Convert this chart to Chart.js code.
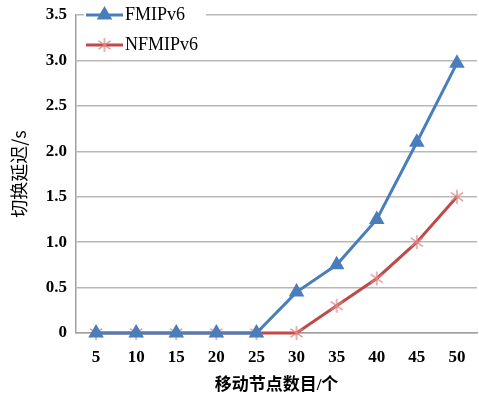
<!DOCTYPE html>
<html>
<head>
<meta charset="utf-8">
<script src="https://cdn.jsdelivr.net/npm/chart.js@4/dist/chart.umd.min.js"></script>
<style>
  html, body { margin: 0; padding: 0; background: #fff; }
  #wrap { width: 479px; height: 396px; }
</style>
</head>
<body>
<div id="wrap"><canvas id="chart" width="479" height="396"></canvas></div>
<script>
// Data
const nodeCounts = ['5', '10', '15', '20', '25', '30', '35', '40', '45', '50'];
const fmipDelay = [0, 0, 0, 0, 0, 0.45, 0.75, 1.25, 2.1, 2.97];
const nfmipDelay = [0, 0, 0, 0, 0, 0, 0.3, 0.6, 1.0, 1.5];
const yTicks = [0, 0.5, 1.0, 1.5, 2.0, 2.5, 3.0, 3.5];

const blue = '#4a7ebb';
const red = '#be4b48';
const serif = "'Liberation Serif', 'Times New Roman', 'Noto Sans CJK SC', serif";

// Excel-like asterisk marker (X plus vertical bar)
function makeAsterisk(size, color) {
  const c = document.createElement('canvas');
  c.width = size;
  c.height = size;
  const g = c.getContext('2d');
  const m = size / 2;
  const r = size / 2 - 1;
  g.strokeStyle = color;
  g.lineWidth = 1.3;
  g.beginPath();
  g.moveTo(m, m - r); g.lineTo(m, m + r);
  g.moveTo(m - r * 0.87, m - r * 0.6); g.lineTo(m + r * 0.87, m + r * 0.6);
  g.moveTo(m - r * 0.87, m + r * 0.6); g.lineTo(m + r * 0.87, m - r * 0.6);
  g.stroke();
  return c;
}
const asterisk = makeAsterisk(16, '#dd8684');

// Legend drawn inside the plot area, top-left
const insideLegend = {
  id: 'insideLegend',
  afterDraw(chart) {
    const ctx = chart.ctx;
    const area = chart.chartArea;
    ctx.save();
    chart.data.datasets.forEach((ds, i) => {
      const y = area.top + i * 30;
      const x0 = area.left + 10;
      const x1 = x0 + 37;
      ctx.fillStyle = '#fff';
      ctx.fillRect(x0 - 2, y - 9, 122, 18);
      ctx.strokeStyle = ds.borderColor;
      ctx.lineWidth = 3;
      ctx.beginPath();
      ctx.moveTo(x0, y);
      ctx.lineTo(x1, y);
      ctx.stroke();
      ctx.fillStyle = ds.pointBackgroundColor;
      ctx.strokeStyle = ds.pointBorderColor;
      Chart.helpers.drawPoint(ctx, {
        pointStyle: ds.pointStyle,
        radius: ds.pointRadius,
        borderWidth: 1
      }, (x0 + x1) / 2, y);
      ctx.fillStyle = '#000';
      ctx.font = '18px ' + serif;
      ctx.textBaseline = 'middle';
      ctx.textAlign = 'left';
      ctx.fillText(ds.label, x1 + 2, y);
    });
    ctx.restore();
  }
};

const ctx = document.getElementById('chart').getContext('2d');
const chart = new Chart(ctx, {
  type: 'line',
  data: {
    labels: nodeCounts,
    datasets: [{
      label: 'FMIPv6',
      data: fmipDelay,
      borderColor: blue,
      backgroundColor: blue,
      pointBackgroundColor: blue,
      pointBorderColor: blue,
      pointStyle: 'triangle',
      pointRadius: 6,
      borderWidth: 3,
      tension: 0,
      clip: false
    }, {
      label: 'NFMIPv6',
      data: nfmipDelay,
      borderColor: red,
      backgroundColor: red,
      pointBackgroundColor: red,
      pointBorderColor: red,
      pointStyle: asterisk,
      pointRadius: 8,
      borderWidth: 3,
      tension: 0,
      clip: false
    }]
  },
  options: {
    responsive: false,
    animation: false,
    layout: { autoPadding: false, padding: { top: 15, right: 2, left: 0, bottom: 0 } },
    plugins: {
      legend: { display: false },
      tooltip: { enabled: false }
    },
    scales: {
      x: {
        offset: true,
        grid: { display: false, drawTicks: false },
        border: { color: '#a0a0a0', width: 1.5 },
        ticks: {
          color: '#000',
          padding: 14,
          font: { family: serif, size: 17, weight: 'bold' }
        },
        title: {
          display: true,
          text: '移动节点数目/个',
          color: '#000',
          padding: { top: 8, bottom: 0 },
          font: { family: serif, size: 17, weight: 'bold' }
        },
        afterFit(s) { s.height = 63; s.paddingLeft = 0; s.paddingRight = 0; }
      },
      y: {
        min: 0,
        max: 3.5,
        afterBuildTicks(s) { s.ticks = yTicks.map(v => ({ value: v })); },
        grid: { color: '#b8b8b8', lineWidth: 1.5, drawTicks: false },
        border: { color: '#a0a0a0', width: 1.5 },
        ticks: {
          color: '#000',
          padding: 9,
          font: { family: serif, size: 17, weight: 'bold' },
          callback: v => v === 0 ? '0' : v.toFixed(1)
        },
        title: {
          display: true,
          text: '切换延迟/s',
          color: '#000',
          padding: { top: 8, bottom: 0 },
          font: { family: "'Noto Sans CJK SC', sans-serif", size: 18 }
        },
        afterFit(s) { s.width = 76; s.paddingTop = 0; s.paddingBottom = 0; }
      }
    }
  },
  plugins: [insideLegend]
});
</script>
</body>
</html>
